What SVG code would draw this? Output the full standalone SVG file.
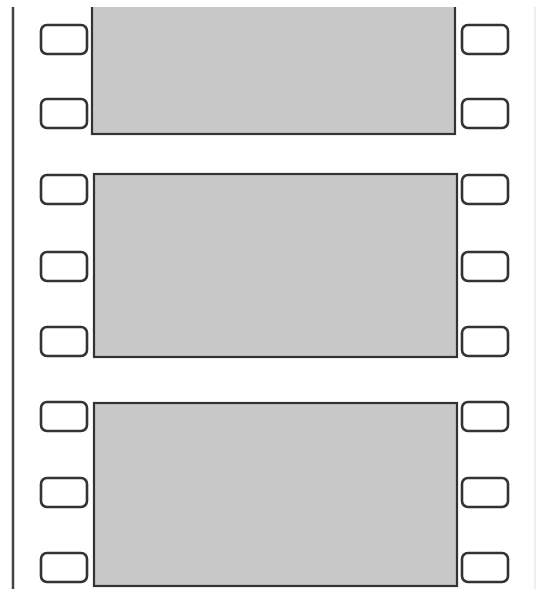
<svg xmlns="http://www.w3.org/2000/svg" width="536" height="589" viewBox="0 0 536 589">
<style>
.frame{fill:#c8c8c8;stroke:#333;stroke-width:2.2}
.hole{fill:#fff;stroke:#333;stroke-width:2.6}
.edge{stroke:#444;stroke-width:2.5}
.edge2{stroke:#ddd;stroke-width:1}
</style>
<defs>
<clipPath id="c"><rect x="0" y="7" width="536" height="582"/></clipPath>
<rect id="h" class="hole" width="46" height="29" rx="6"/>
</defs>
<rect width="536" height="589" fill="#fff"/>
<g clip-path="url(#c)">
<g id="edges">
<line class="edge" x1="13" y1="0" x2="13" y2="589"/>
<line class="edge2" x1="535" y1="0" x2="535" y2="589"/>
</g>
<g id="frame1"><rect class="frame" x="92" y="-20" width="363" height="154"/></g>
<g id="frame2"><rect class="frame" x="94" y="174" width="363" height="183"/></g>
<g id="frame3"><rect class="frame" x="94" y="403" width="363" height="183"/></g>
<g id="holes-left">
<use href="#h" x="41" y="25"/>
<use href="#h" x="41" y="99"/>
<use href="#h" x="41" y="175"/>
<use href="#h" x="41" y="252"/>
<use href="#h" x="41" y="327"/>
<use href="#h" x="41" y="402"/>
<use href="#h" x="41" y="478"/>
<use href="#h" x="41" y="553"/>
</g>
<g id="holes-right">
<use href="#h" x="462" y="25"/>
<use href="#h" x="462" y="99"/>
<use href="#h" x="462" y="175"/>
<use href="#h" x="462" y="252"/>
<use href="#h" x="462" y="327"/>
<use href="#h" x="462" y="402"/>
<use href="#h" x="462" y="478"/>
<use href="#h" x="462" y="553"/>
</g>
</g>
</svg>
